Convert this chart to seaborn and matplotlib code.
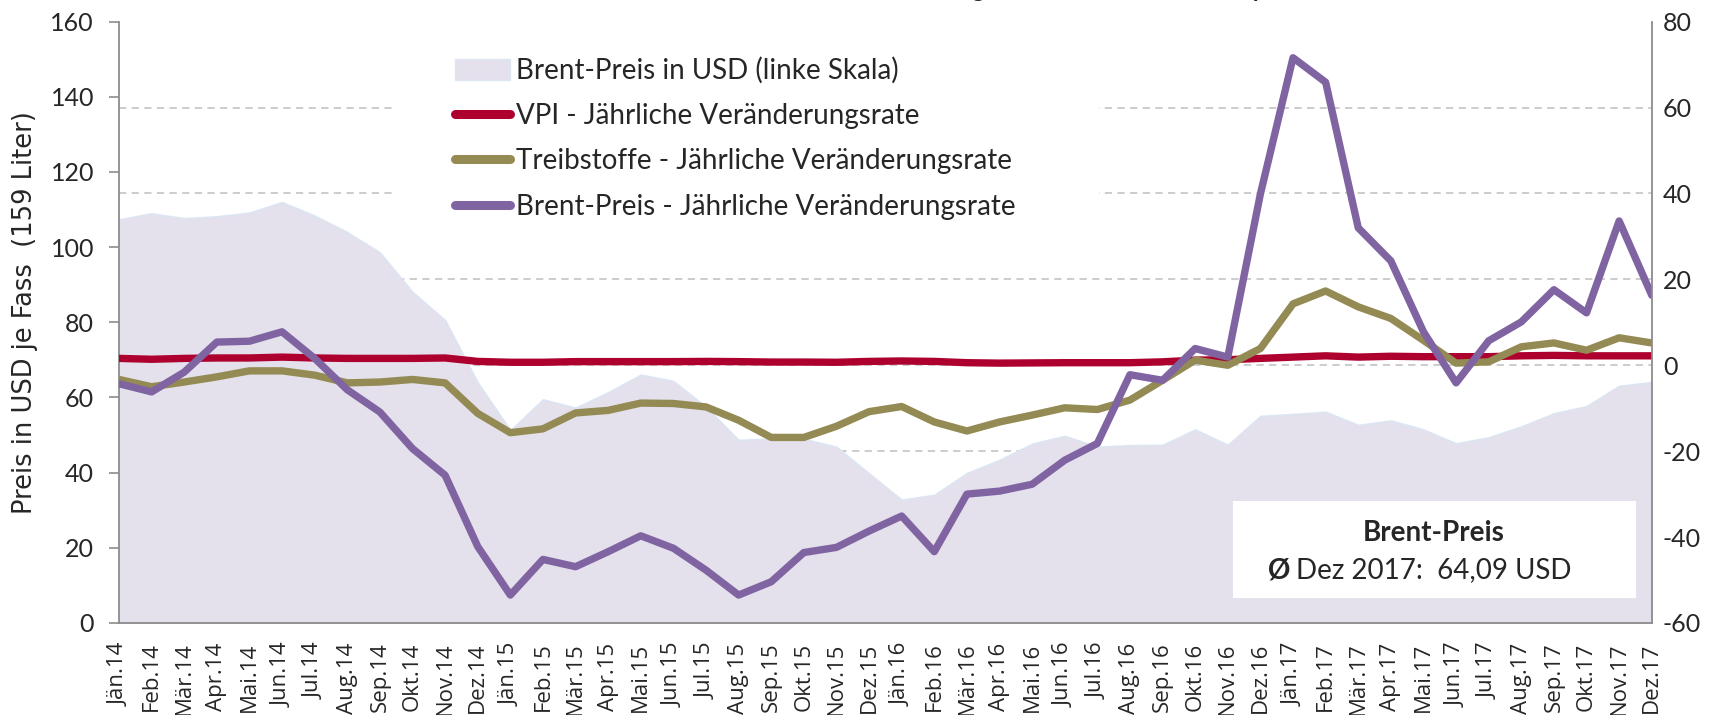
import pandas as pd
import matplotlib
matplotlib.use("Agg")
import matplotlib.pyplot as plt
import seaborn as sns
from matplotlib.patches import Patch, Rectangle
from matplotlib.lines import Line2D

# Data

month_names = ["Jän", "Feb", "Mär", "Apr", "Mai", "Jun",
               "Jul", "Aug", "Sep", "Okt", "Nov", "Dez"]
years = ["14", "15", "16", "17"]
month_labels = [f"{m}.{y}" for y in years for m in month_names]

brent_usd = [107.4, 109.0, 107.7, 108.2, 109.2, 112.0, 108.4, 104.0, 98.6, 88.1, 80.6, 64.0,
             51.3, 59.5, 57.3, 61.4, 66.1, 64.4, 57.5, 48.7, 49.1, 49.0, 46.9, 39.8,
             32.8, 34.1, 39.9, 43.4, 47.7, 49.8, 46.9, 47.3, 47.4, 51.5, 47.4, 55.1,
             55.6, 56.2, 52.7, 53.9, 51.5, 47.8, 49.4, 52.3, 55.8, 57.7, 63.1, 64.1]

vpi_rate = [1.6, 1.4, 1.6, 1.7, 1.7, 1.9, 1.7, 1.6, 1.6, 1.6, 1.7, 0.9,
            0.7, 0.7, 0.85, 0.85, 0.85, 0.85, 0.9, 0.85, 0.75, 0.75, 0.7, 0.9,
            1.0, 0.9, 0.6, 0.5, 0.55, 0.6, 0.6, 0.6, 0.8, 1.2, 1.3, 1.6,
            1.9, 2.2, 1.9, 2.1, 2.0, 2.0, 2.0, 2.2, 2.3, 2.2, 2.2, 2.2]

fuel_rate = [-3.3, -5.0, -3.9, -2.7, -1.3, -1.3, -2.3, -4.1, -3.9, -3.3, -4.1, -11.2,
             -15.7, -14.8, -11.1, -10.5, -8.8, -8.9, -9.7, -12.8, -16.8, -16.8, -14.2, -10.8,
             -9.6, -13.2, -15.3, -13.2, -11.6, -9.9, -10.3, -8.1, -3.5, 1.2, 0.0, 3.9,
             14.3, 17.3, 13.6, 10.9, 5.8, 0.5, 0.8, 4.3, 5.2, 3.5, 6.4, 5.2]

brent_rate = [-4.3, -6.2, -1.6, 5.4, 5.6, 7.8, 1.6, -5.7, -10.9, -19.4, -25.6, -42.2,
              -53.5, -45.2, -46.9, -43.4, -39.7, -42.6, -47.7, -53.5, -50.4, -43.6, -42.4, -38.6,
              -35.1, -43.4, -30.0, -29.3, -27.7, -22.1, -18.2, -2.2, -3.5, 3.9, 1.9, 39.9,
              71.6, 65.9, 32.0, 24.3, 7.8, -4.1, 5.7, 10.1, 17.6, 12.2, 33.6, 16.3]

series_names = ["VPI - Jährliche Veränderungsrate",
                "Treibstoffe - Jährliche Veränderungsrate",
                "Brent-Preis - Jährliche Veränderungsrate"]
area_name = "Brent-Preis in USD (linke Skala)"

left_ticks = [0, 20, 40, 60, 80, 100, 120, 140, 160]
right_ticks = [-60, -40, -20, 0, 20, 40, 60, 80]

colors = {series_names[0]: "#AD002F",
          series_names[1]: "#948A54",
          series_names[2]: "#8064A2"}
area_color = "#E4E0EC"

# Build long table for seaborn.

x = list(range(len(month_labels)))
rates = pd.DataFrame({"x": x * 3,
                      "rate": vpi_rate + fuel_rate + brent_rate,
                      "series": sum([[n] * len(x) for n in series_names], [])})

# Figure.

sns.set_style("white")
plt.rcParams["font.family"] = ["Lato", "DejaVu Sans"]
plt.rcParams["axes.unicode_minus"] = False

fig = plt.figure(figsize=(17.17, 7.15), dpi=100)
ax1 = fig.add_axes([0.0693, 0.1287, 0.8927, 0.8410])
ax2 = ax1.twinx()

# Area (left scale).

ax1.fill_between(x, brent_usd, 0, color=area_color, edgecolor="#DCE6F2",
                 linewidth=1.2, zorder=1)
ax1.set_xlim(0, len(x) - 1)
ax1.set_ylim(left_ticks[0], left_ticks[-1])
ax1.set_yticks(left_ticks)
ax1.tick_params(axis="y", which="major", direction="out", length=7, width=1.2,
                color="#8C8C8C", pad=11, labelsize=18)

# Gridlines follow the right scale, but sit below the area.
lo, hi = right_ticks[0], right_ticks[-1]
grid_pos = [(v - lo) / (hi - lo) * left_ticks[-1] for v in right_ticks[1:]]
ax1.set_yticks(grid_pos, minor=True)
ax1.tick_params(axis="y", which="minor", length=0)
ax1.grid(axis="y", which="minor", color="#C8C8C8", linestyle=(0, (4, 3)), linewidth=1.3)
ax1.grid(axis="y", which="major", visible=False)
ax1.grid(axis="x", visible=False)
ax1.set_axisbelow(True)

ax1.set_xticks(x)
ax1.set_xticklabels(month_labels, rotation=90, fontsize=16,
                    family=["Open Sans", "DejaVu Sans"], va="top", ha="center")
ax1.tick_params(axis="x", length=0, pad=14)
ax1.set_ylabel("Preis in USD je Fass  (159 Liter)", family="DejaVu Sans",
               fontsize=18.5)
ax1.yaxis.set_label_coords(-0.053, 0.517)

for side in ["top", "right"]:
    ax1.spines[side].set_visible(False)
for side in ["left", "bottom"]:
    ax1.spines[side].set_color("#8C8C8C")
    ax1.spines[side].set_linewidth(1.3)

# White box behind legend.
ax1.add_patch(Rectangle((0.1807, 0.64), 0.459, 0.335, transform=ax1.transAxes,
                        facecolor="white", edgecolor="none", zorder=3))

# Rates (right scale).

sns.lineplot(data=rates, x="x", y="rate", hue="series", palette=colors,
             hue_order=series_names, linewidth=5.3, legend=False, ax=ax2,
             solid_capstyle="round", solid_joinstyle="round")
ax2.set_ylim(lo, hi)
ax2.set_yticks(right_ticks)
ax2.set_xlim(0, len(x) - 1)
ax2.set_xlabel("")
ax2.set_ylabel("")
ax2.tick_params(axis="y", length=0, pad=8, labelsize=18)
ax2.grid(False)
for side in ["top", "left", "bottom"]:
    ax2.spines[side].set_visible(False)
ax2.spines["right"].set_color("#8C8C8C")
ax2.spines["right"].set_linewidth(1.3)

# Legend.

handles = [Patch(facecolor=area_color, edgecolor="#DCE6F2")]
handles += [Line2D([], [], color=colors[n], linewidth=6.5, solid_capstyle="round")
            for n in series_names]
leg = ax2.legend(handles, [area_name] + series_names, loc="upper left",
                 bbox_to_anchor=(0.21, 0.964), frameon=False, fontsize=20,
                 borderpad=0, handlelength=2.0, handleheight=0.75,
                 handletextpad=0.2, labelspacing=0.69)
leg.set_zorder(5)

# Info box.

ax1.add_patch(Rectangle((0.7267, 0.0416), 0.2633, 0.1613, transform=ax1.transAxes,
                        facecolor="white", edgecolor="none", zorder=3))
ax1.text(0.858, 0.150, "Brent-Preis", transform=ax1.transAxes, ha="center",
         va="center", fontsize=20, fontweight="bold", zorder=4)
ax1.text(0.7495, 0.088, "Ø", transform=ax1.transAxes, ha="left", va="center",
         fontsize=20, fontweight="bold", zorder=4)
ax1.text(0.768, 0.088, "Dez 2017:  64,09 USD", transform=ax1.transAxes, ha="left",
         va="center", fontsize=20, zorder=4)

# Title (cut off at the top edge of the picture).

fig.text(0.5003, 1.004, "Entwicklung von Rohöl- und Treibstoffpreisen", ha="left",
         va="baseline", fontsize=16.5, fontweight="bold")

fig.savefig("out.png", dpi=100)
